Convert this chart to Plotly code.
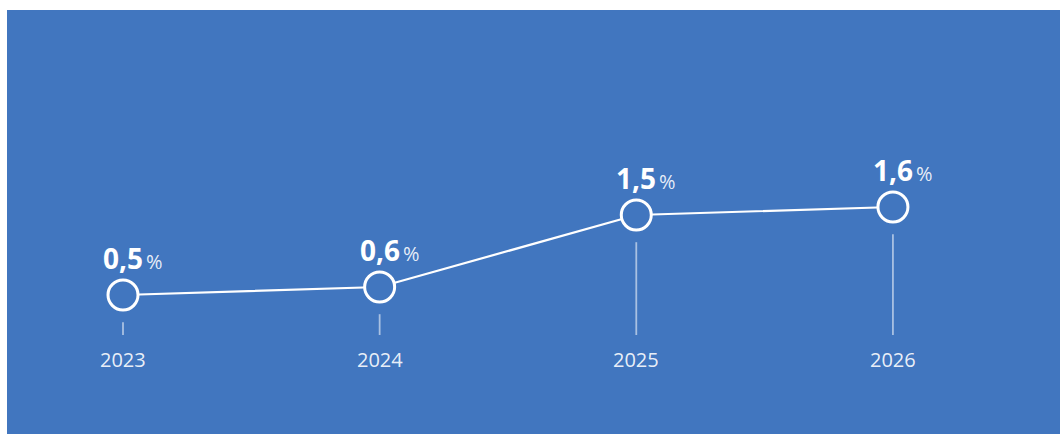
import plotly.graph_objects as go

# Annual growth rate, %
years = ["2023", "2024", "2025", "2026"]
values = [0.5, 0.6, 1.5, 1.6]
value_labels = ["0,5", "0,6", "1,5", "1,6"]

BG = "rgb(65,118,191)"
FONT = "Open Sans"

xs = list(range(len(years)))

# Thin drop lines from just below each marker down to the baseline
drop_x, drop_y = [], []
for i, v in zip(xs, values):
    drop_x += [i, i, None]
    drop_y += [v - 0.34, 0, None]

fig = go.Figure()
fig.add_trace(go.Scatter(
    x=drop_x, y=drop_y, mode="lines",
    line=dict(color="rgba(255,255,255,0.55)", width=1.8),
    hoverinfo="skip", showlegend=False,
))
fig.add_trace(go.Scatter(
    x=xs, y=values, mode="lines+markers",
    line=dict(color="white", width=2.2),
    marker=dict(size=30, color=BG, line=dict(color="white", width=3)),
    showlegend=False,
))

annotations = []
for i, (v, lab, yr) in enumerate(zip(values, value_labels, years)):
    annotations.append(dict(
        x=i, y=v, xref="x", yref="y", text=f"<b>{lab}</b>",
        showarrow=False, xanchor="center", yanchor="middle", yshift=37,
        font=dict(family=FONT, size=28, color="white"),
    ))
    annotations.append(dict(
        x=i, y=v, xref="x", yref="y", text="%",
        showarrow=False, xanchor="left", yanchor="middle", yshift=34, xshift=21,
        font=dict(family=FONT, size=20, color="rgba(255,255,255,0.88)"),
    ))
    annotations.append(dict(
        x=i, y=0, xref="x", yref="y", text=yr,
        showarrow=False, xanchor="center", yanchor="middle", yshift=-24,
        font=dict(family=FONT, size=20, color="rgba(255,255,255,0.9)"),
    ))

fig.update_layout(
    width=1060, height=434,
    margin=dict(l=7, r=0, t=10, b=0),
    paper_bgcolor="white", plot_bgcolor=BG,
    xaxis=dict(range=[-0.452, 3.651], visible=False, fixedrange=True),
    yaxis=dict(range=[-1.2375, 4.0625], visible=False, fixedrange=True),
    annotations=annotations,
)

fig.write_html("out.html")
